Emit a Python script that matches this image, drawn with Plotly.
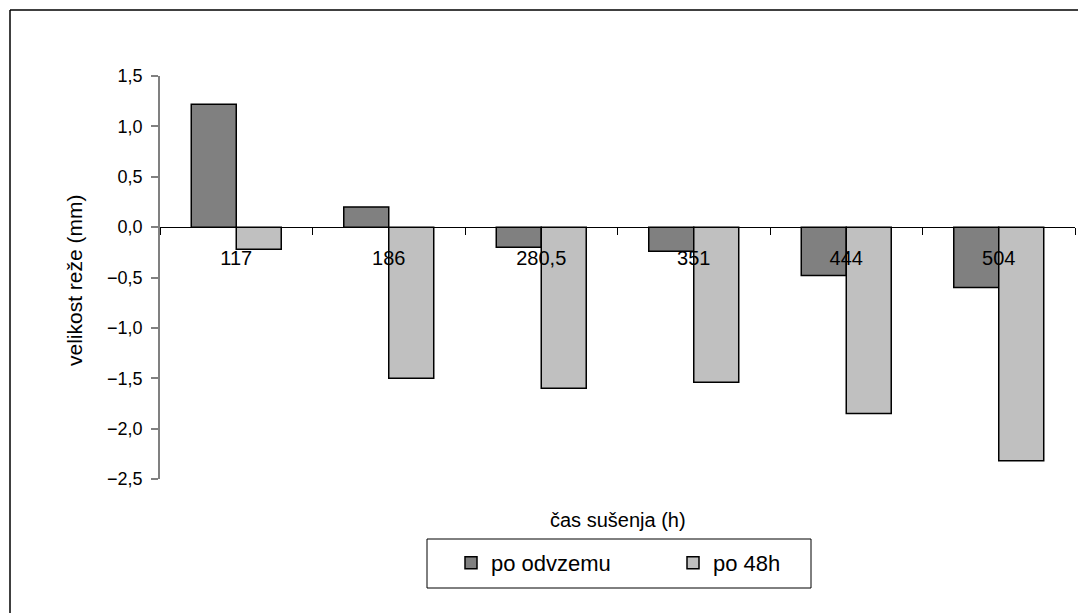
import plotly.graph_objects as go

# drying time categories (h)
categories = ["117", "186", "280,5", "351", "444", "504"]
# gap size (mm) right after removal and after 48 h
po_odvzemu = [1.22, 0.20, -0.20, -0.24, -0.48, -0.60]
po_48h = [-0.22, -1.50, -1.60, -1.54, -1.85, -2.32]
y_ticks = [-2.5, -2.0, -1.5, -1.0, -0.5, 0.0, 0.5, 1.0, 1.5]

FONT = "Arial, Liberation Sans, sans-serif"
W, H = 1078, 613
L, R, T, B = 160, 3, 76, 134
y_min, y_max = -2.5, 1.5
zero_pos = (0 - y_min) / (y_max - y_min)

fig = go.Figure()
fig.add_bar(x=categories, y=po_odvzemu, name="po odvzemu",
            marker=dict(color="#808080", line=dict(color="black", width=1.5)))
fig.add_bar(x=categories, y=po_48h, name="po 48h",
            marker=dict(color="#C0C0C0", line=dict(color="black", width=1.5)))

pw = W - L - R
ph = H - T - B

def px_x(x):
    return (x - L) / pw

def px_y(y):
    return 1 - (y - T) / ph

fig.update_layout(
    width=W, height=H,
    margin=dict(l=L, r=R, t=T, b=B),
    paper_bgcolor="white", plot_bgcolor="white",
    separators=", ",
    barmode="group", bargap=0.41, bargroupgap=0,
    font=dict(family=FONT, size=16, color="black"),
    xaxis=dict(
        type="category", anchor="free", position=zero_pos,
        showline=True, linecolor="black", linewidth=1,
        ticks="outside", tickson="boundaries", ticklen=7, tickcolor="black",
        tickfont=dict(size=20), ticklabelstandoff=13,
        showgrid=False, zeroline=False,
    ),
    yaxis=dict(
        range=[y_min, y_max], tickvals=y_ticks, tickformat=".1f",
        showline=True, linecolor="#808080", linewidth=1.5,
        ticks="outside", ticklen=7, tickcolor="#808080", tickwidth=1.5,
        tickfont=dict(size=18), ticklabelstandoff=5,
        showgrid=False, zeroline=False,
    ),
    showlegend=True,
    legend=dict(
        orientation="h", x=px_x(451), xanchor="left", y=px_y(542), yanchor="top",
        bgcolor="rgba(0,0,0,0)", borderwidth=0,
        font=dict(size=22), entrywidth=177, itemclick=False,
    ),
    annotations=[
        dict(text="čas sušenja (h)", xref="paper", yref="paper",
             x=0.5, y=px_y(520), xanchor="center", yanchor="middle",
             showarrow=False, font=dict(size=20)),
        dict(text="velikost reže (mm)", xref="paper", yref="paper",
             x=0, y=px_y(280), xshift=-86, xanchor="center", yanchor="middle",
             textangle=-90, showarrow=False, font=dict(size=21)),
    ],
    shapes=[
        # outer chart frame (top and left edges visible)
        dict(type="line", xref="paper", yref="paper",
             x0=px_x(10), x1=px_x(W + 5), y0=px_y(10), y1=px_y(10),
             line=dict(color="black", width=1.5)),
        dict(type="line", xref="paper", yref="paper",
             x0=px_x(10), x1=px_x(10), y0=px_y(10), y1=px_y(H + 5),
             line=dict(color="black", width=1.5)),
        # legend frame
        dict(type="rect", xref="paper", yref="paper",
             x0=px_x(427), x1=px_x(811), y0=px_y(539), y1=px_y(588),
             line=dict(color="black", width=1)),
    ],
)

fig.write_html("out.html")
